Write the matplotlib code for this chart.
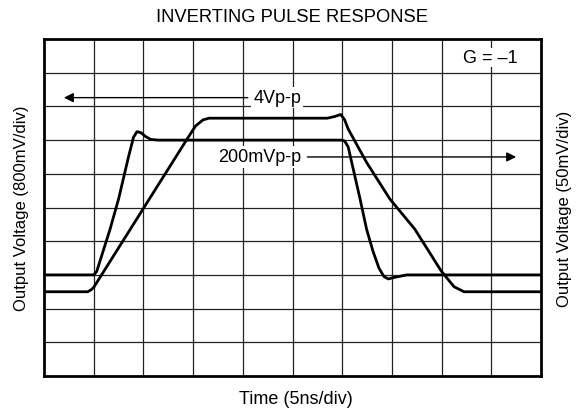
import matplotlib
matplotlib.use("Agg")
import matplotlib.pyplot as plt
import numpy as np

plt.rcParams['font.family'] = ['Liberation Sans', 'DejaVu Sans']

# Screen divisions
n_xdiv = 10
n_ydiv = 10

# Fast trace (200mVp-p, 50mV/div) - time (div), level (div)
fast_t = [0.0, 1.0, 1.06, 1.33, 1.5, 1.7, 1.8, 1.87, 1.95, 2.05, 2.15, 2.3, 6.0, 6.05, 6.12, 6.36, 6.49, 6.62, 6.74, 6.84, 6.93, 7.03, 7.3, 10.0]
fast_v = [3.0, 3.0, 3.1, 4.36, 5.25, 6.5, 7.08, 7.25, 7.22, 7.1, 7.02, 7.0, 7.0, 6.97, 6.8, 5.25, 4.36, 3.7, 3.2, 2.95, 2.88, 2.92, 3.0, 3.0]

# Slow trace (4Vp-p, 800mV/div)
slow_t = [0.0, 0.88, 0.95, 1.0, 2.9, 3.05, 3.2, 3.32, 5.7, 5.85, 5.97, 6.05, 6.12, 6.49, 6.96, 7.46, 7.99, 8.25, 8.45, 10.0]
slow_v = [2.5, 2.5, 2.56, 2.63, 7.08, 7.42, 7.6, 7.65, 7.65, 7.7, 7.76, 7.6, 7.33, 6.34, 5.25, 4.36, 3.12, 2.65, 2.5, 2.5]

title = "INVERTING PULSE RESPONSE"
xlabel = "Time (5ns/div)"
ylabel_left = "Output Voltage (800mV/div)"
ylabel_right = "Output Voltage (50mV/div)"

fs = 13

fig = plt.figure(figsize=(5.84, 4.14), dpi=100)
ax = fig.add_axes([44/584, 37/414, 497/584, 337/414])
ax.set_xlim(0, n_xdiv)
ax.set_ylim(0, n_ydiv)

for i in range(1, n_xdiv):
    ax.axvline(i, color='#222222', lw=0.9, zorder=1)
for j in range(1, n_ydiv):
    ax.axhline(j, color='#222222', lw=0.9, zorder=1)

ax.plot(fast_t, fast_v, color='black', lw=2.0, solid_joinstyle='round', zorder=3)
ax.plot(slow_t, slow_v, color='black', lw=2.0, solid_joinstyle='round', zorder=3)

for s in ax.spines.values():
    s.set_linewidth(2.0)
ax.set_xticks([])
ax.set_yticks([])

# Annotations
ax.annotate("", xy=(0.4, 8.26), xytext=(4.1, 8.26),
            arrowprops=dict(arrowstyle='-|>', color='black', lw=1.0,
                            mutation_scale=14, shrinkA=0, shrinkB=0), zorder=4)
ax.text(4.69, 8.26, "4Vp-p", ha='center', va='center', fontsize=fs,
        bbox=dict(facecolor='white', edgecolor='none', pad=1.5), zorder=5)

ax.annotate("", xy=(9.5, 6.5), xytext=(5.3, 6.5),
            arrowprops=dict(arrowstyle='-|>', color='black', lw=1.0,
                            mutation_scale=14, shrinkA=0, shrinkB=0), zorder=4)
ax.text(4.33, 6.5, "200mVp-p", ha='center', va='center', fontsize=fs,
        bbox=dict(facecolor='white', edgecolor='none', pad=1.5), zorder=5)

ax.text(8.99, 9.45, "G = \u20131", ha='center', va='center', fontsize=fs,
        bbox=dict(facecolor='white', edgecolor='none', pad=1.0), zorder=5)

fig.text(292/584, 1 - 17/414, title, ha='center', va='center', fontsize=13.2)
fig.text(296/584, 1 - 400/414, xlabel, ha='center', va='center', fontsize=fs)
fig.text(22/584, 1 - 208/414, ylabel_left, ha='center', va='center', fontsize=12, rotation=90)
fig.text(565/584, 1 - 209/414, ylabel_right, ha='center', va='center', fontsize=12, rotation=90)

fig.savefig("out.png", dpi=100)
